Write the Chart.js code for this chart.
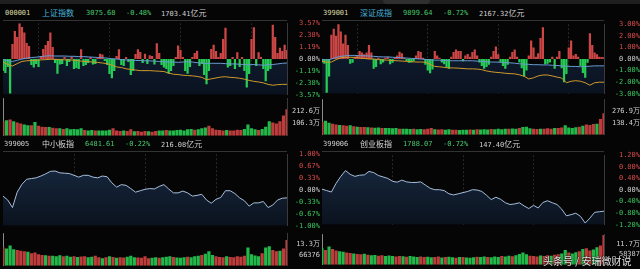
<!DOCTYPE html>
<html>
<head>
<meta charset="utf-8">
<script src="https://cdn.jsdelivr.net/npm/chart.js@4.4.1/dist/chart.umd.min.js"></script>
<style>
  body { margin:0; background:#050505; width:640px; height:269px; overflow:hidden; position:relative; }
  canvas, .t, .ln { position:absolute; }
  .t { white-space:nowrap; line-height:10px; font-size:7px; font-family:"DejaVu Sans Mono", "Noto Sans CJK SC", monospace; }
  .cjk { font-family:"Noto Sans CJK SC", sans-serif; font-size:8px; }
  .ln { background:#333; }
  #strip { position:absolute; left:0; top:0; width:640px; height:4px; background:#1f1f1f; }
  #tab { position:absolute; left:383px; top:0; width:47px; height:4px; background:#2f2f2f; border-radius:0 0 4px 4px; }
  #mark { position:absolute; left:543px; top:253px; font:10px "Noto Sans CJK SC", sans-serif; color:rgba(255,255,255,0.88); text-shadow:0 0 2px #000, 0 0 1px #000; white-space:nowrap; }
</style>
</head>
<body>
<div id="strip"></div><div id="tab"></div>
<script>
// 上证指数: 分时线、均价线(4分钟一点), 红绿柱(2分钟), 成交量(3分钟, 万)
const shLine = [-0.03,-0.18,-0.24,-0.12,0,0.09,0.15,0.18,0.24,0.3,
  0.33,0.3,0.3,0.3,0.27,0.27,0.24,0.24,0.21,0.18,
  0.15,0.12,0.09,0.03,0,-0.06,-0.09,-0.12,-0.15,-0.15,
  -0.18,-0.18,-0.21,-0.24,-0.27,-0.3,-0.3,-0.33,-0.3,-0.27,
  -0.3,-0.37,-0.4,-0.46,-0.43,-0.43,-0.43,-0.46,-0.49,-0.49,
  -0.52,-0.55,-0.58,-0.55,-0.58,-0.61,-0.58,-0.55,-0.49,-0.43,-0.4];
const shAvg = [-0.3,-0.55,-0.7,-0.46,-0.24,-0.18,-0.15,-0.12,-0.09,-0.06,
  -0.03,-0.03,-0.06,-0.09,-0.09,-0.12,-0.18,-0.24,-0.27,-0.3,
  -0.34,-0.4,-0.46,-0.61,-0.79,-0.85,-0.98,-1.04,-1.1,-1.16,
  -1.16,-1.16,-1.19,-1.22,-1.25,-1.4,-1.52,-1.55,-1.62,-1.65,
  -1.68,-1.74,-1.83,-2.07,-1.98,-1.89,-1.8,-1.77,-1.83,-1.86,
  -1.92,-2.01,-2.13,-2.23,-2.29,-2.38,-2.53,-2.62,-2.56,-2.53,-2.53];
const shBars = [-1.2,-1.4,-0.8,-3.45,1.5,2.8,2.2,3.57,3.2,2.65,
  1.6,1.3,-0.6,-0.85,-0.5,-0.8,0.3,1.0,1.4,1.8,
  2.65,1.2,-0.4,-1.46,-0.55,-0.5,0.2,-0.7,-0.3,0.2,
  -1.0,-0.9,-1.0,0.98,-0.7,-0.6,-0.4,0.2,-0.55,-0.5,
  0.1,0.52,0.45,-0.2,-0.6,-1.5,-1.92,-1.2,0.3,0.98,
  -0.6,-0.7,0.2,-0.3,-1.6,-1.2,0.5,0.98,0.7,-0.4,
  0.52,-0.49,0.37,0.3,-0.55,1.58,0.6,-0.6,-0.85,-1.0,
  -1.46,-1.2,-0.7,0.2,1.34,0.9,0.2,-1.2,-1.46,-0.8,
  0.2,0.6,0.82,-0.7,-0.5,-1.6,-2.53,-1.2,1.0,1.43,
  0.8,0.2,0.6,2.0,3.11,-0.85,-0.7,0.2,-1.0,0.67,
  -0.8,0.2,-1.2,-2.84,-1.5,2.0,3.17,-0.7,0.67,0.2,
  -1.0,-2.23,-1.2,-1.0,3.41,2.2,0.6,1.13,0.8,1.43,0.9];
const shVol = [123,131,139,123,112,104,95,90,90,117,
  85,76,74,74,68,63,63,57,63,55,
  57,55,63,49,46,49,44,46,44,46,
  52,63,44,41,46,41,55,38,41,35,
  41,38,35,41,44,46,49,44,46,49,
  52,46,55,57,52,55,63,71,85,63,
  52,49,46,49,44,46,52,49,57,95,
  63,55,49,57,76,123,112,104,123,172,226];
const shDir = "rgrgrrggrgrrrgrrgrgggggrggrggggrrrgrrgrrrgrrggrgggggggrgggrrrrrgrrrrggggrgggrrrrr";
const shTicks = [3.57, 2.38, 1.19, 0, -1.19, -2.38, -3.57];
const shVolTicks = [106.3, 212.6];

// 深证成指
const szLine = [-0.03,-0.1,0,0.13,0.23,0.28,0.31,0.31,0.28,0.28,
  0.26,0.23,0.2,0.18,0.18,0.15,0.13,0.1,0.08,0.05,
  0.03,0,-0.03,-0.08,-0.1,-0.1,-0.13,-0.15,-0.15,-0.15,
  -0.15,-0.15,-0.15,-0.18,-0.2,-0.23,-0.26,-0.26,-0.28,-0.31,
  -0.33,-0.36,-0.41,-0.44,-0.46,-0.49,-0.49,-0.51,-0.51,-0.54,
  -0.56,-0.59,-0.62,-0.64,-0.64,-0.67,-0.64,-0.62,-0.59,-0.59,-0.59];
const szAvg = [-0.18,-0.28,-0.26,-0.05,0.1,0.15,0.15,0.13,0.08,0.05,
  0,0,-0.05,-0.08,-0.1,-0.13,-0.15,-0.18,-0.2,-0.23,
  -0.26,-0.26,-0.28,-0.46,-0.64,-0.67,-0.72,-0.77,-0.77,-0.79,
  -0.82,-0.85,-0.85,-0.87,-0.92,-1.03,-1.1,-1.15,-1.18,-1.23,
  -1.26,-1.28,-1.36,-1.49,-1.72,-1.62,-1.46,-1.38,-1.38,-1.46,
  -1.56,-1.64,-2.05,-1.92,-1.87,-1.92,-2.05,-2.26,-2.05,-2.0,-2.0];
const szBars = [-0.3,-0.4,-2.9,-1.5,2.1,2.6,2.0,3.08,2.36,1.33,
  2.1,1.2,-0.4,-0.33,0.2,0.3,0.69,0.56,0.4,0.56,
  1.2,0.56,-0.85,-0.7,0.1,-0.46,-0.3,0.1,0.2,-0.46,
  -0.33,0.1,0.3,0.62,0.5,0.1,-0.2,-0.33,-0.3,-0.2,
  0.3,0.69,0.6,0.1,-0.5,-1.0,-1.23,-0.9,0.69,0.3,
  0.1,-0.3,-0.46,-0.7,-0.85,0.2,0.6,0.82,0.7,0.69,
  -0.2,0.3,0.44,0.2,0.6,0.82,0.3,-0.3,-0.6,-0.85,
  -0.7,-0.5,0.2,0.7,1.08,0.4,-0.3,-0.6,-0.85,-0.5,
  0.2,0.6,0.82,0.2,-0.3,-0.8,-1.49,-1.0,0.3,1.59,
  1.0,0.2,0.5,1.8,2.74,-0.46,-0.4,-0.3,0.2,-0.85,
  0.2,0.69,-0.8,-2.0,-1.3,1.0,1.59,0.3,0.44,0.2,
  -0.6,-1.2,-1.62,-0.33,2.23,1.2,0.56,0.4,0.2,0.18,0.15];
const szVol = [150,165,140,130,120,115,110,105,110,100,
  95,92,90,88,85,82,85,80,78,80,
  75,78,72,70,72,68,70,65,68,66,
  70,80,65,62,64,60,66,58,60,57,
  60,58,62,60,64,62,66,63,68,65,
  70,66,72,70,74,72,80,90,95,75,
  70,68,72,70,75,72,78,80,85,110,
  85,80,88,95,105,120,115,125,130,185,250];
const szDir = "rggrrgrrgrgrrgrggrggggrgggrggrrrgrrggrrgggrgrgggrggggrggrgggrrgrrrgrrggggrgrrrgrr";
const szTicks = [3, 2, 1, 0, -1, -2, -3];
const szVolTicks = [138.44, 276.88];

// 中小板指
const zxLine = [-0.17,-0.28,-0.49,-0.06,0.16,0.3,0.32,0.34,0.39,0.45,
  0.52,0.53,0.48,0.47,0.46,0.41,0.36,0.41,0.41,0.36,
  0.34,0.39,0.37,0.2,0.08,0.15,0.13,0.04,-0.06,-0.02,
  0.02,0.04,0.03,0.1,0.15,0.03,-0.08,-0.08,-0.03,-0.08,
  -0.17,-0.15,-0.12,-0.28,-0.37,-0.26,-0.21,-0.02,-0.02,-0.1,
  -0.22,-0.3,-0.45,-0.36,-0.36,-0.32,-0.49,-0.42,-0.28,-0.23,-0.22];
const zxVol = [11.2,10.5,12.4,10.1,9.7,9.2,8.9,8.6,7.7,8.1,
  7.1,6.6,6.5,6.1,6.1,5.8,6.5,5.8,6.1,5.5,
  5.8,5.4,5.7,5.8,5.2,5.5,6.1,5.2,4.6,5.2,
  5.8,5.4,4.9,5.2,5.1,5.5,6.1,5.2,5.1,4.9,
  5.8,4.6,4.9,5.2,4.9,5.2,5.5,5.8,5.4,5.1,
  4.9,5.2,5.5,5.2,5.8,6.1,6.6,7.4,8.9,6.6,
  5.8,5.4,5.2,5.8,5.4,5.2,5.8,5.5,6.1,11.2,
  7.1,6.3,5.8,7.7,11.2,12.0,9.7,8.9,9.2,10.5,15.8];
const zxDir = "rgggrrrgrrrrgrgggrggrgrrggrrgrgrgrrgggrrrrggrgggrgggrgggrgggrrrgrrrrrggggrggrrgrr";
const zxTicks = [1, 0.67, 0.33, 0, -0.33, -0.67, -1];
const zxVolTicks = [6.6376, 13.2752];

// 创业板指
const cyLine = [0.03,-0.02,-0.07,0.23,0.47,0.67,0.54,0.47,0.51,0.52,
  0.64,0.6,0.5,0.45,0.4,0.3,0.27,0.34,0.28,0.26,
  0.26,0.28,0.17,0.06,0.01,0.01,-0.02,-0.13,-0.17,-0.13,
  -0.09,-0.05,0.01,0,-0.05,-0.18,-0.33,-0.25,-0.32,-0.44,
  -0.5,-0.48,-0.44,-0.55,-0.64,-0.53,-0.62,-0.43,-0.37,-0.44,
  -0.5,-0.66,-0.89,-0.85,-0.8,-0.91,-1.14,-0.97,-0.77,-0.75,-0.73];
const cyVol = [9.5,8.5,10.5,9.0,8.2,7.8,7.5,7.0,6.8,6.5,
  6.2,6.0,6.3,5.8,5.5,5.6,5.2,5.4,5.0,5.3,
  5.0,4.8,5.1,4.9,4.6,5.0,4.7,4.5,4.8,4.4,
  4.6,4.3,4.5,4.7,4.2,4.4,4.6,4.3,4.1,4.4,
  4.5,4.2,4.0,4.3,4.6,4.4,4.8,4.5,4.3,4.7,
  4.5,5.0,4.8,5.2,4.9,5.4,6.2,7.0,6.0,5.2,
  5.0,4.8,5.3,5.0,5.5,5.2,5.8,6.0,6.5,8.5,
  7.0,6.5,7.2,7.8,9.0,9.5,8.2,8.8,10.0,11.0,17.0];
const cyDir = "grgrrggrrgrrgrggrrgggrrgrgggrrggrrgrggrgrgggrggrgggrggrggggrrrgrrgrrggrggrgrrggrr";
const cyTicks = [1.2, 0.8, 0.4, 0, -0.4, -0.8, -1.2];
const cyVolTicks = [5.8387, 11.6774];

// 标题栏
const shHead = ["000001", "上证指数", "3075.68", "-0.48%", "1703.41亿元"];
const szHead = ["399001", "深证成指", "9899.64", "-0.72%", "2167.32亿元"];
const zxHead = ["399005", "中小板指", "6481.61", "-0.22%", "216.08亿元"];
const cyHead = ["399006", "创业板指", "1788.07", "-0.72%", "147.40亿元"];

const RED_SIG = "#cc4646", GREEN_SIG = "#27cc55";
const RED_VOL = "#bd3c3c", GREEN_VOL = "#22b84a";
const FONT = { family: '"DejaVu Sans Mono", "Noto Sans CJK SC", monospace', size: 7 };

function pts(arr, step) {
  return arr.map((v, i) => ({ x: i * step, y: v }));
}

function addCanvas(x, y, w, h) {
  const c = document.createElement("canvas");
  c.width = w; c.height = h;
  c.style.left = x + "px"; c.style.top = y + "px";
  document.body.appendChild(c);
  return c;
}

function addLine(x, y, w, h) {
  const d = document.createElement("div");
  d.className = "ln";
  d.style.cssText = `left:${x}px;top:${y}px;width:${w}px;height:${h}px`;
  document.body.appendChild(d);
}

function header(left, top, items, xs, colors) {
  items.forEach((txt, i) => {
    const s = document.createElement("div");
    s.className = "t";
    s.style.left = (left + xs[i]) + "px";
    s.style.top = top + "px";
    s.style.color = colors[i];
    s.innerHTML = txt.replace(/([^\x00-\x7f]+)/g, '<span class="cjk">$1</span>');
    document.body.appendChild(s);
  });
}

function navyFill(top, bottom) {
  return (c) => {
    const a = c.chart.chartArea;
    if (!a) return top;
    const g = c.chart.ctx.createLinearGradient(0, a.top, 0, a.bottom);
    g.addColorStop(0, top);
    g.addColorStop(1, bottom);
    return g;
  };
}

function xAxis(gridAt, color, dash) {
  return {
    type: "linear", min: 0, max: 240, offset: false,
    ticks: { display: false },
    grid: { color: color, drawTicks: false, lineWidth: 1 },
    border: { display: false, dash: dash },
    afterBuildTicks: (a) => { a.ticks = gridAt.map((v) => ({ value: v })); },
    afterFit: (a) => { a.height = 0; },
  };
}

function priceChart(p) {
  const lim = p.ticks[0];
  const ds = [
    { type: "line", data: pts(p.line, 4), borderColor: p.lineColor, borderWidth: 1, pointRadius: 0, fill: false, order: 0 },
  ];
  if (p.avg) {
    ds.push({ type: "line", data: pts(p.avg, 4), borderColor: "#cf9a2a", borderWidth: 1, pointRadius: 0, fill: false, order: 1 });
  }
  if (p.bars) {
    ds.push({
      type: "bar", data: pts(p.bars, 2),
      backgroundColor: (c) => (c.raw && c.raw.y >= 0 ? RED_SIG : GREEN_SIG),
      categoryPercentage: 1, barPercentage: 0.95, order: 2,
    });
  }
  ds.push({
    type: "line", data: pts(p.line, 4), borderWidth: 0, pointRadius: 0,
    fill: "start", backgroundColor: navyFill(p.fillTop, p.fillBottom), order: 3,
  });

  new Chart(addCanvas(p.left, p.top + 10, 320, 90), {
    type: "line",
    data: { datasets: ds },
    options: {
      responsive: false, animation: false, events: [],
      layout: { padding: { top: 6, bottom: 6, left: p.padLeft, right: 0 } },
      plugins: { legend: { display: false }, tooltip: { enabled: false } },
      scales: {
        x: xAxis([60, 120, 180], "#282828", [2, 2]),
        y: {
          position: "right", min: -lim, max: lim,
          afterBuildTicks: (a) => { a.ticks = p.ticks.map((v) => ({ value: v })); },
          afterFit: (a) => { a.width = p.axisW; },
          grid: { display: false, drawTicks: false },
          border: { display: true, color: "#3a3a3a" },
          ticks: {
            font: FONT, crossAlign: "far", padding: p.tickPad,
            color: (c) => (c.tick.value > 0 ? "#d94a4a" : c.tick.value < 0 ? "#36c65c" : "#cfcfcf"),
            callback: (v) => v.toFixed(2) + "%",
          },
        },
      },
    },
  });
}

function volChart(p) {
  new Chart(addCanvas(p.left, p.top + 88, 320, p.volH + 12), {
    type: "bar",
    data: {
      datasets: [{
        data: pts(p.vol, 3),
        backgroundColor: p.vol.map((v, i) => (p.dir[i] === "r" ? RED_VOL : GREEN_VOL)),
        categoryPercentage: 1, barPercentage: 0.9,
      }],
    },
    options: {
      responsive: false, animation: false, events: [],
      layout: { padding: { top: 6, bottom: 6, left: p.padLeft, right: 0 } },
      plugins: { legend: { display: false }, tooltip: { enabled: false } },
      scales: {
        x: xAxis([120], "#8a8a8a", []),
        y: {
          position: "right", min: 0, max: p.volTicks[0] * 3,
          afterBuildTicks: (a) => { a.ticks = p.volTicks.map((v) => ({ value: v })); },
          afterFit: (a) => { a.width = p.axisW; },
          grid: { display: false, drawTicks: false },
          border: { display: true, color: "#3a3a3a" },
          ticks: {
            font: FONT, crossAlign: "far", padding: p.volPad, color: "#cfcfcf",
            callback: (v) => (v >= 10 ? v.toFixed(1) + "万" : String(Math.round(v * 10000))),
          },
        },
      },
    },
  });
}

const panels = [
  { left: 0, top: 4, head: shHead, xs: [5, 42, 86, 126, 161], codeColor: "#dcdca6", nameColor: "#45b3dc",
    line: shLine, avg: shAvg, bars: shBars, vol: shVol, dir: shDir, ticks: shTicks, volTicks: shVolTicks,
    lineColor: "#6a9bd2", fillTop: "#12213a", fillBottom: "#0a121f", volH: 38 },
  { left: 320, top: 4, head: szHead, xs: [3, 40, 83, 123, 159], codeColor: "#dcdca6", nameColor: "#45b3dc",
    line: szLine, avg: szAvg, bars: szBars, vol: szVol, dir: szDir, ticks: szTicks, volTicks: szVolTicks,
    lineColor: "#6a9bd2", fillTop: "#12213a", fillBottom: "#0a121f", volH: 38 },
  { left: 0, top: 135, head: zxHead, xs: [4, 42, 85, 125, 161], codeColor: "#cfcfcf", nameColor: "#d6d6d6",
    line: zxLine, vol: zxVol, dir: zxDir, ticks: zxTicks, volTicks: zxVolTicks,
    lineColor: "#a6bedc", fillTop: "#1a2b44", fillBottom: "#0a121d", volH: 41 },
  { left: 320, top: 135, head: cyHead, xs: [3, 40, 83, 123, 159], codeColor: "#cfcfcf", nameColor: "#d6d6d6",
    line: cyLine, vol: cyVol, dir: cyDir, ticks: cyTicks, volTicks: cyVolTicks,
    lineColor: "#a6bedc", fillTop: "#1a2b44", fillBottom: "#0a121d", volH: 41 },
];

panels.forEach((p) => {
  const isLeft = p.left === 0;
  p.padLeft = isLeft ? 3 : 2;
  p.axisW = isLeft ? 33 : 36;
  p.tickPad = isLeft ? 5 : 6;
  const bigVol = p.volTicks[1] >= 100;
  p.volPad = isLeft ? (bigVol ? 2 : 6) : (bigVol ? 3 : 7);

  header(p.left, p.top + 4, p.head, p.xs,
    [p.codeColor, p.nameColor, "#48c86c", "#48cc6e", "#d0d0d0"]);
  const plotW = 320 - p.axisW - p.padLeft;
  addLine(p.left + p.padLeft, p.top + 16, plotW, 1);
  priceChart(p);
  volChart(p);
});

const mark = document.createElement("div");
mark.id = "mark";
mark.textContent = "头条号 / 安瑞微财说";
document.body.appendChild(mark);
</script>
</body>
</html>
